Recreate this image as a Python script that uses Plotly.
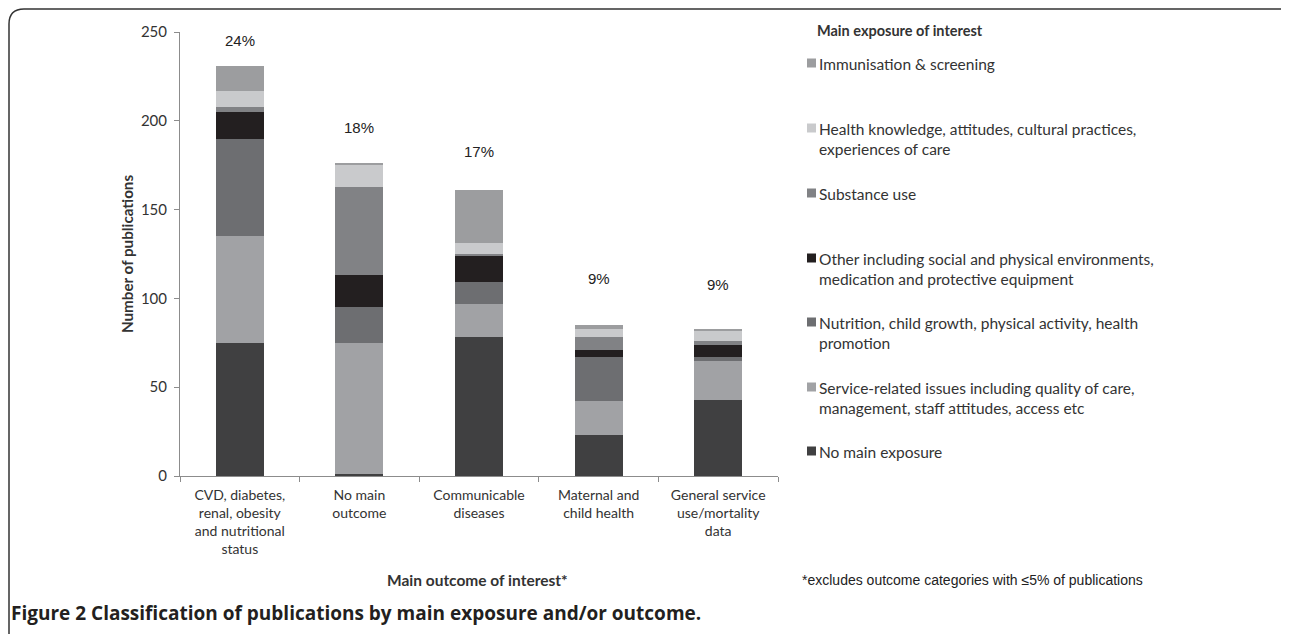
import plotly.graph_objects as go

W, H = 1289, 634
OFF = 8  # page body margin

categories = [
    "CVD, diabetes,<br>renal, obesity<br>and nutritional<br>status",
    "No main<br>outcome",
    "Communicable<br>diseases",
    "Maternal and<br>child health",
    "General service<br>use/mortality<br>data",
]

series_names = [
    "No main exposure",
    "Service-related issues including quality of care,<br>management, staff attitudes, access etc",
    "Nutrition, child growth, physical activity, health<br>promotion",
    "Other including social and physical environments,<br>medication and protective equipment",
    "Substance use",
    "Health knowledge, attitudes, cultural practices,<br>experiences of care",
    "Immunisation & screening",
]

no_main_exposure = [75, 1, 78, 23, 43]
service_related = [60, 74, 19, 19, 22]
nutrition = [55, 20, 12, 25, 2]
other = [15, 18, 15, 4, 7]
substance_use = [3, 50, 1, 7, 2]
health_knowledge = [9, 12, 6, 5, 6]
immunisation = [14, 1.5, 30, 2, 1]

series_values = [no_main_exposure, service_related, nutrition, other,
                 substance_use, health_knowledge, immunisation]

series_colors = ["#404041", "#a1a2a5", "#6d6e71", "#231f20", "#818285", "#c9cacc", "#9c9d9f"]

pct_labels = ["24%", "18%", "17%", "9%", "9%"]
pct_label_y = [245, 196, 182.5, 111, 108]

y_ticks = [0, 50, 100, 150, 200, 250]


def px(xp):
    return (xp - OFF) / W


def py(yp):
    return 1 - (yp - OFF) / H


fig = go.Figure()
for name, vals, col in zip(series_names, series_values, series_colors):
    fig.add_trace(go.Bar(x=categories, y=vals, name=name,
                         marker=dict(color=col, line=dict(width=0)),
                         showlegend=False))

for c, t, yv in zip(categories, pct_labels, pct_label_y):
    fig.add_annotation(x=c, y=yv, xref="x", yref="y", text=t, showarrow=False,
                       font=dict(family="Liberation Sans, Arial", size=15, color="#222"),
                       xanchor="center", yanchor="middle")

# manual legend (items aligned on their first line, equal spacing)
fig.add_annotation(x=px(815), y=py(30), xref="paper", yref="paper",
                   text="<b>Main exposure of interest</b>", showarrow=False,
                   xanchor="left", yanchor="middle",
                   font=dict(family="Lato", size=14.5, color="#333"))
legend_y = [451, 387, 322, 258, 193, 128, 63]
for name, col, ly in zip(series_names, series_colors, legend_y):
    fig.add_shape(type="rect", xref="paper", yref="paper",
                  x0=px(807), x1=px(816), y0=py(ly + 4.5), y1=py(ly - 4.5),
                  fillcolor=col, line=dict(width=0))
    fig.add_annotation(x=px(817), y=py(ly - 10.5), xref="paper", yref="paper",
                       text=name, showarrow=False, xanchor="left", yanchor="top",
                       align="left",
                       font=dict(family="Lato", size=15.5, color="#333"))

fig.add_annotation(x=px(478), y=py(580), xref="paper", yref="paper",
                   text="<b>Main outcome of interest*</b>", showarrow=False,
                   xanchor="center", yanchor="middle",
                   font=dict(family="Lato", size=15.5, color="#333"))
fig.add_annotation(x=px(127), y=py(254), xref="paper", yref="paper",
                   text="<b>Number of publications</b>", showarrow=False, textangle=-90,
                   xanchor="center", yanchor="middle",
                   font=dict(family="Lato", size=15.2, color="#333"))
fig.add_annotation(x=px(800), y=py(580), xref="paper", yref="paper",
                   text="*excludes outcome categories with \u22645% of publications", showarrow=False,
                   xanchor="left", yanchor="middle",
                   font=dict(family="Liberation Sans, Arial", size=14, color="#222"))
fig.add_annotation(x=px(9), y=py(613), xref="paper", yref="paper",
                   text="<b>Figure 2</b> <b>Classification of publications by main exposure and/or outcome.</b>",
                   showarrow=False, xanchor="left", yanchor="middle",
                   font=dict(family="Open Sans", size=19, color="#231f20"))

# rounded frame (left and top edges)
fig.add_shape(type="path", xref="paper", yref="paper",
              path=(f"M {px(9)},{py(700)} L {px(9)},{py(24)} "
                    f"Q {px(9)},{py(9)} {px(24)},{py(9)} L {px(1281)},{py(9)} "
                    f"Q {px(1286)},{py(9)} {px(1290)},{py(14)}"),
              line=dict(color="#333", width=1.5))

fig.update_layout(
    width=W, height=H, autosize=False,
    margin=dict(l=0, r=0, t=0, b=0, autoexpand=False),
    paper_bgcolor="white", plot_bgcolor="white",
    barmode="stack", bargap=0.6,
    showlegend=False,
    xaxis=dict(domain=[px(180), px(778)], automargin=False,
               showline=True, linecolor="#8c8c8c", linewidth=1,
               ticks="outside", tickson="boundaries", ticklen=5, tickcolor="#8c8c8c",
               ticklabelstandoff=6,
               tickfont=dict(family="Lato", size=14, color="#333"),
               showgrid=False, zeroline=False, fixedrange=True),
    yaxis=dict(domain=[py(476), py(32)], range=[0, 250], tickvals=y_ticks, automargin=False,
               showline=True, linecolor="#8c8c8c", linewidth=1,
               ticks="outside", ticklen=5, tickcolor="#8c8c8c",
               ticklabelstandoff=4,
               tickfont=dict(family="Lato", size=15, color="#333"),
               showgrid=False, zeroline=False, fixedrange=True),
)

fig.write_html("out.html")
